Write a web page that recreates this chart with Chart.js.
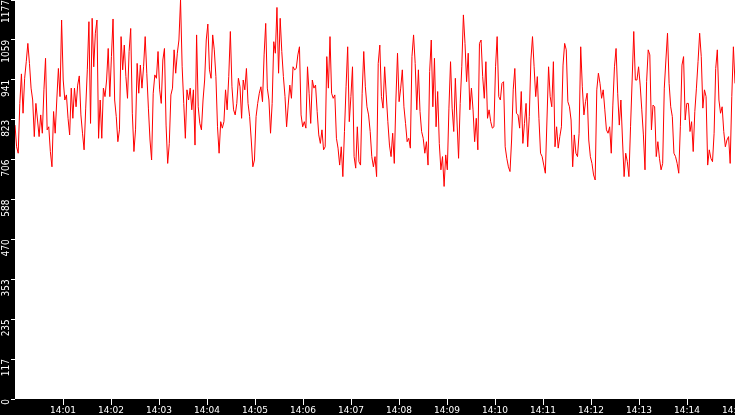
<!DOCTYPE html>
<html>
<head>
<meta charset="utf-8">
<script src="https://cdn.jsdelivr.net/npm/chart.js@4/dist/chart.umd.min.js"></script>
<style>
  html, body { margin: 0; padding: 0; background: #000; overflow: hidden; }
  #c { display: block; }
</style>
</head>
<body>
<canvas id="c" width="735" height="415" style="width:735px;height:415px"></canvas>
<script>
// Samples every ~2 s, from 14:00:00 to 14:15:00 (one array per ~112 s stretch)
const seg1 = [808,744,725,872,959,843,946,995,1049,990,917,882,774,872,823,774,838,784,912,1005,794,803,730,685,848,784,882,975,892,1118,941,882,897,828,779,917,828,917,862,926,953,838,784,735,858,971,1113,813,1123,980,1079,1118,769,882,769,917];
const seg2 = [892,941,1034,892,1010,1121,882,833,759,794,1069,971,1044,951,887,1025,1093,843,730,794,990,902,985,917,980,1069,961,858,764,705,902,956,946,1025,912,872,1000,1034,808,695,754,897,917,1030,961,1020,1059,1177,980,872,769,912,882,917,853,912];
const seg3 = [749,1074,862,813,794,882,941,1059,1106,971,946,1074,1030,951,803,725,818,799,818,912,853,951,1084,921,853,838,872,946,921,828,941,912,975,872,833,764,685,705,833,872,902,921,877,1015,1108,917,882,784,872,1054,1020,1155,961,1123,1025,951];
const seg4 = [892,803,867,926,887,980,971,975,1015,1039,838,803,818,799,980,902,813,941,917,926,848,779,754,794,735,744,1010,917,1069,902,887,897,769,740,690,744,656,789,921,1039,818,892,980,715,681,803,700,690,902,1025,921,862,838,789,715,685];
const seg5 = [715,656,990,1044,892,858,980,897,818,749,715,784,695,882,1020,877,917,971,862,813,759,769,740,1010,1074,990,853,971,848,789,769,725,759,690,966,1059,862,1005,803,907,754,676,715,627,720,676,858,995,858,789,946,823,710,872,980,1133];
const seg6 = [1049,936,1020,853,917,853,759,828,735,1049,1059,951,887,995,828,853,818,799,803,980,1069,892,882,931,936,744,710,685,671,764,912,975,843,838,799,907,754,813,872,744,833,1000,1069,980,892,951,828,725,715,690,666,823,980,892,862,995];
const seg7 = [744,803,740,774,803,985,1049,1030,877,862,823,685,779,725,715,784,1039,921,838,877,902,764,715,695,661,646,912,961,931,887,912,853,794,784,803,725,867,980,1034,902,808,882,764,656,725,700,656,803,941,1084,941,941,980,926,853,779];
const seg8 = [676,936,1030,1015,794,867,862,715,759,710,676,695,917,1000,1079,931,862,833,725,715,695,666,803,985,1010,823,872,872,789,818,730,848,917,995,1079,1010,858,912,892,690,735,710,700,784,975,1030,882,843,862,789,744,764,774,695,892,1039,931];

const startSecond = 0;     // 14:00:00
const endSecond = 900;     // 14:15:00
const yMax = 1177;

const xTickSeconds = [60,120,180,240,300,360,420,480,540,600,660,720,780,840,900];
const xTickLabels = ['14:01','14:02','14:03','14:04','14:05','14:06','14:07','14:08','14:09','14:10','14:11','14:12','14:13','14:14','14:15'];
const yTickValues = [0,117.7,235.4,353.1,470.8,588.5,706.2,823.9,941.6,1059.3,1177];
const yTickLabels = ['0','117','235','353','470','588','706','823','941','1059','1177'];

const values = [].concat(seg1, seg2, seg3, seg4, seg5, seg6, seg7, seg8);
const step = (endSecond - startSecond) / (values.length - 1);
const points = values.map((v, i) => ({ x: startSecond + i * step, y: v }));

const bgPlugin = {
  id: 'bg',
  beforeDraw(chart) {
    const { ctx, chartArea: a, width, height } = chart;
    ctx.save();
    ctx.fillStyle = '#000';
    ctx.fillRect(0, 0, width, height);
    ctx.fillStyle = '#fff';
    ctx.fillRect(a.left, a.top, a.right - a.left, a.bottom - a.top);
    ctx.restore();
  }
};

new Chart(document.getElementById('c'), {
  type: 'line',
  data: {
    datasets: [{
      data: points,
      borderColor: '#ff0000',
      borderWidth: 1,
      pointRadius: 0,
      tension: 0,
      fill: false
    }]
  },
  options: {
    responsive: false,
    animation: false,
    devicePixelRatio: 1,
    layout: { padding: 0 },
    plugins: { legend: { display: false }, tooltip: { enabled: false } },
    scales: {
      x: {
        type: 'linear',
        min: startSecond,
        max: endSecond,
        afterBuildTicks: s => { s.ticks = xTickSeconds.map(v => ({ value: v })); },
        afterFit: s => { s.height = 16; s.paddingLeft = 0; s.paddingRight = 0; },
        ticks: {
          autoSkip: false, minRotation: 0, maxRotation: 0,
          color: '#fff', padding: 0,
          font: { family: 'DejaVu Sans', size: 9 },
          callback: (v, i) => xTickLabels[i]
        },
        grid: { drawOnChartArea: false, drawTicks: true, tickLength: 6, color: '#fff', tickColor: '#fff' },
        border: { display: false }
      },
      y: {
        type: 'linear',
        min: 0,
        max: yMax,
        afterBuildTicks: s => { s.ticks = yTickValues.map(v => ({ value: v })); },
        afterFit: s => { s.width = 15; s.paddingTop = 0; s.paddingBottom = 0; },
        ticks: {
          autoSkip: false, minRotation: 90, maxRotation: 90,
          crossAlign: 'near', padding: 5,
          color: '#fff',
          font: { family: "'Liberation Sans Narrow', 'DejaVu Sans Condensed', sans-serif", size: 10 },
          callback: (v, i) => yTickLabels[i]
        },
        grid: { drawOnChartArea: false, drawTicks: true, tickLength: 4, color: '#fff', tickColor: '#fff' },
        border: { display: false }
      }
    }
  },
  plugins: [bgPlugin]
});
</script>
</body>
</html>
